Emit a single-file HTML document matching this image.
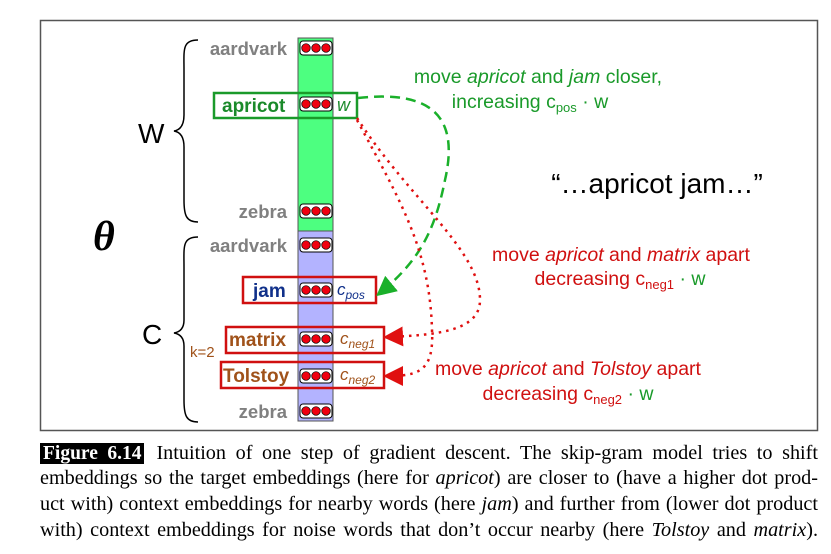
<!DOCTYPE html>
<html><head><meta charset="utf-8"><style>
body{margin:0;width:831px;height:554px;background:#fff;overflow:hidden;position:relative;font-family:"Liberation Sans",sans-serif}
svg{position:absolute;left:0;top:0}
.cap{position:absolute;left:40px;width:778px;font-family:"Liberation Serif",serif;font-size:20.2px;text-align:justify;text-align-last:justify;white-space:nowrap;line-height:20px}
.fig{background:#000;color:#fff;font-weight:bold;padding:0 3px;margin-right:12px;font-size:19.5px}
</style></head><body>
<svg width="831" height="440">
<rect x="40.5" y="20.5" width="777" height="410" fill="none" stroke="#555" stroke-width="1.5"/>
<rect x="298" y="38" width="35" height="193" fill="#4dff80" stroke="#555"/>
<rect x="298" y="231" width="35" height="190" fill="#b3b3ff" stroke="#555"/>
<g font-weight="bold" font-size="18.5" text-anchor="end">
<text x="287" y="55" fill="#808080">aardvark</text>
<text x="287" y="218" fill="#808080">zebra</text>
<text x="287" y="252" fill="#808080">aardvark</text>
<text x="287" y="418" fill="#808080">zebra</text>
</g>
<rect x="214" y="93" width="143" height="25" fill="none" stroke="#1a9a2a" stroke-width="2.5"/>
<text x="222" y="112" font-weight="bold" font-size="19" fill="#1a8a2a">apricot</text>
<text x="337" y="111" font-style="italic" font-size="18" fill="#1a8a2a">w</text>
<rect x="243" y="277" width="133" height="26" fill="none" stroke="#d01010" stroke-width="2.5"/>
<text x="253" y="297" font-weight="bold" font-size="19" fill="#10308a">jam</text>
<text x="337" y="295" font-style="italic" font-size="17" fill="#10308a">c<tspan font-size="12" dy="4">pos</tspan></text>
<rect x="226" y="327" width="158" height="26" fill="none" stroke="#d01010" stroke-width="2.5"/>
<text x="229" y="346" font-weight="bold" font-size="19" fill="#a0521a">matrix</text>
<text x="340" y="344" font-style="italic" font-size="17" fill="#a0521a">c<tspan font-size="12" dy="4">neg1</tspan></text>
<rect x="221" y="362" width="163" height="26" fill="none" stroke="#d01010" stroke-width="2.5"/>
<text x="223" y="382" font-weight="bold" font-size="19" fill="#a0521a">Tolstoy</text>
<text x="340" y="380" font-style="italic" font-size="17" fill="#a0521a">c<tspan font-size="12" dy="4">neg2</tspan></text>
<g id="dots"></g>
<path d="M198 40 C182 40 184 50 184 70 L184 115 C184 125 180 130 174 131 C180 132 184 137 184 147 L184 200 C184 215 186 222 198 222" fill="none" stroke="#000" stroke-width="1.5"/>
<path d="M198 237 C182 237 184 247 184 267 L184 320 C184 328 180 332 174 333 C180 334 184 338 184 346 L184 400 C184 415 186 422 198 422" fill="none" stroke="#000" stroke-width="1.5"/>
<text x="138" y="143" font-size="28">W</text>
<text x="142" y="344" font-size="28">C</text>
<text x="190" y="357" font-size="15" fill="#a0521a">k=2</text>
<text x="93" y="250" font-family="Liberation Serif" font-style="italic" font-weight="bold" font-size="42">θ</text>
<text x="657" y="193" font-size="28" text-anchor="middle">“…apricot jam…”</text>
<g font-size="19.5" text-anchor="middle">
<text x="538" y="83" fill="#1a9a2a">move <tspan font-style="italic">apricot</tspan> and <tspan font-style="italic">jam</tspan> closer,</text>
<text x="530" y="108" fill="#1a9a2a">increasing c<tspan font-size="13" dy="4">pos</tspan><tspan dy="-4"> · w</tspan></text>
<text x="621" y="261" fill="#d01010">move <tspan font-style="italic">apricot</tspan> and <tspan font-style="italic">matrix</tspan> apart</text>
<text x="620" y="285" fill="#d01010">decreasing c<tspan font-size="13" dy="4">neg1</tspan><tspan dy="-4" fill="#1a9a2a"> · w</tspan></text>
<text x="568" y="375" fill="#d01010">move <tspan font-style="italic">apricot</tspan> and <tspan font-style="italic">Tolstoy</tspan> apart</text>
<text x="568" y="400" fill="#d01010">decreasing c<tspan font-size="13" dy="4">neg2</tspan><tspan dy="-4" fill="#1a9a2a"> · w</tspan></text>
</g>
<defs>
<marker id="ag" markerWidth="8" markerHeight="8" refX="6" refY="4" orient="auto"><path d="M0 0 L8 4 L0 8Z" fill="#1ab02a"/></marker>
<marker id="ar" markerWidth="8" markerHeight="8" refX="6" refY="4" orient="auto"><path d="M0 0 L8 4 L0 8Z" fill="#e01010"/></marker>
</defs>
<path d="M358 98 C430 90 460 115 445 180 C435 230 420 260 380 293" fill="none" stroke="#1ab02a" stroke-width="2.5" stroke-dasharray="10 6" marker-end="url(#ag)"/>
<path d="M357 118 C410 200 480 250 480 300 C480 330 440 335 388 337" fill="none" stroke="#e01010" stroke-width="2.5" stroke-dasharray="2.5 5" marker-end="url(#ar)"/>
<path d="M357 120 C400 200 430 250 432 330 C434 370 420 376 388 376" fill="none" stroke="#e01010" stroke-width="2.5" stroke-dasharray="2.5 5" marker-end="url(#ar)"/>
</svg>
<div class="cap" style="top:443px"><span class="fig">Figure 6.14</span>Intuition of one step of gradient descent. The skip-gram model tries to shift</div>
<div class="cap" style="top:468px">embeddings so the target embeddings (here for <i>apricot</i>) are closer to (have a higher dot prod-</div>
<div class="cap" style="top:494px">uct with) context embeddings for nearby words (here <i>jam</i>) and further from (lower dot product</div>
<div class="cap" style="top:520px">with) context embeddings for noise words that don’t occur nearby (here <i>Tolstoy</i> and <i>matrix</i>).</div>
<script>
const rowYs=[48,104,211,245,290,339,376,411];
const g=document.getElementById('dots');
const ns='http://www.w3.org/2000/svg';
rowYs.forEach(function(y,i){
 const r=document.createElementNS(ns,'rect');
 r.setAttribute('x',300);r.setAttribute('y',y-7);r.setAttribute('width',32);r.setAttribute('height',14);r.setAttribute('rx',3);
 r.setAttribute('fill','#fff');r.setAttribute('stroke','#000');
 
 
 g.appendChild(r);
 for(let k=0;k<3;k++){
  const c=document.createElementNS(ns,'circle');
  c.setAttribute('cx',306+k*10);c.setAttribute('cy',y);c.setAttribute('r',4.3);
  c.setAttribute('fill','#f00010');c.setAttribute('stroke','#000');c.setAttribute('stroke-width','0.7');
  
  
  g.appendChild(c);
 }
});
</script>
</body></html>
